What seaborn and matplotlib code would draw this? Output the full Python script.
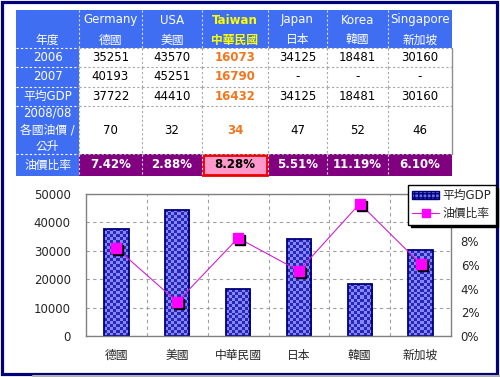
import numpy as np
import pandas as pd
import matplotlib
matplotlib.use('Agg')
import matplotlib.pyplot as plt
import matplotlib.transforms as mtransforms
from matplotlib.patches import Rectangle, Patch
from matplotlib.lines import Line2D
import seaborn as sns

countries_en = ['Germany', 'USA', 'Taiwan', 'Japan', 'Korea', 'Singapore']
countries_zh = ['德國', '美國', '中華民國', '日本', '韓國', '新加坡']
gdp_2006 = ['35251', '43570', '16073', '34125', '18481', '30160']
gdp_2007 = ['40193', '45251', '16790', '-', '-', '-']
gdp_avg = [37722, 44410, 16432, 34125, 18481, 30160]
oil_price = [70, 32, 34, 47, 52, 46]
oil_ratio = [7.42, 2.88, 8.28, 5.51, 11.19, 6.10]
row_labels = ['年度', '2006', '2007', '平均GDP', '2008/08\n各國油價 /\n公升', '油價比率']
legend_labels = ['平均GDP', '油價比率']

df = pd.DataFrame({'country': countries_zh, 'gdp': gdp_avg, 'ratio': oil_ratio})

sns.set_theme(style='white')
plt.rcParams['font.family'] = ['DejaVu Sans', 'Noto Sans CJK TC']

blue = '#3F6EF2'
purple = '#800080'
orange = '#EE7722'
navy = '#00007A'
fs = 8.5

fig = plt.figure(figsize=(5, 3.77), dpi=100)
bg = fig.add_axes([0, 0, 1, 1])
bg.set_xlim(0, 500)
bg.set_ylim(377, 0)
bg.axis('off')

# outer frame + shadow
bg.plot([33, 500], [376, 376], color='#B0B0B0', lw=1.5)
bg.add_patch(Rectangle((1.5, 1.5), 495, 372, fill=False, ec=navy, lw=2.3))

# ---- table ----
col_x = [16, 79, 142, 202, 268, 327, 388, 452]
row_y = [10, 48, 67, 87, 106, 154, 176]
n_rows = len(row_y) - 1
n_cols = len(col_x) - 1

def cell_color(r, c):
    if r == 0 or c == 0:
        return blue
    if r == n_rows - 1:
        return '#FF99CC' if c == 3 else purple
    return 'white'

for r in range(n_rows):
    for c in range(n_cols):
        bg.add_patch(Rectangle((col_x[c], row_y[r]), col_x[c+1]-col_x[c], row_y[r+1]-row_y[r],
                               fc=cell_color(r, c), ec='none'))

# dashed separators
for r in range(n_rows):
    for c in range(1, n_cols):
        dark = cell_color(r, c) != 'white'
        bg.plot([col_x[c], col_x[c]], [row_y[r], row_y[r+1]], ls=(0, (2, 2)), lw=0.8,
                color='#D8D8F0' if dark else '#A8A8A8')
for r in range(1, n_rows):
    for c in range(n_cols):
        dark = cell_color(r, c) != 'white' and cell_color(r-1, c) != 'white'
        bg.plot([col_x[c], col_x[c+1]], [row_y[r], row_y[r]], ls=(0, (2, 2)), lw=0.8,
                color='white' if dark else '#A8A8A8')
bg.plot([col_x[-1], col_x[-1]], [row_y[1], row_y[-2]], color='#909090', lw=1)

# highlight Taiwan ratio cell
bg.add_patch(Rectangle((col_x[3] + 1, row_y[5] + 1), col_x[4]-col_x[3]-2, row_y[6]-row_y[5]-2,
                       fill=False, ec='#EE0000', lw=2))

def cx(c):
    return (col_x[c] + col_x[c+1]) / 2

def cy(r):
    return (row_y[r] + row_y[r+1]) / 2

# row labels
bg.text(cx(0), 40, row_labels[0], color='white', fontsize=fs, ha='center', va='center')
for r in range(1, n_rows):
    bg.text(cx(0), cy(r), row_labels[r], color='white', fontsize=fs, ha='center', va='center',
            linespacing=1.35)

# columns
for i in range(len(countries_en)):
    c = i + 1
    tw = countries_en[i] == 'Taiwan'
    hc = '#FFFF00' if tw else 'white'
    fw = 'bold' if tw else 'normal'
    bg.text(cx(c), 20, countries_en[i], color=hc, fontsize=fs, fontweight=fw, ha='center', va='center')
    bg.text(cx(c), 40, countries_zh[i], color=hc, fontsize=fs, fontweight=fw, ha='center', va='center')
    vals = [gdp_2006[i], gdp_2007[i], str(gdp_avg[i]), str(oil_price[i])]
    for r, v in zip(range(1, 5), vals):
        bg.text(cx(c), cy(r), v, color=orange if tw else 'black', fontsize=fs,
                fontweight=fw, ha='center', va='center')
    bg.text(cx(c), cy(5), f'{oil_ratio[i]:.2f}%', color='black' if tw else 'white',
            fontsize=fs, fontweight='bold', ha='center', va='center')

# ---- chart ----
ax = fig.add_axes([86/500, 1 - 336/377, 365/500, 142/377])
ax.set_facecolor('white')
sns.barplot(data=df, x='country', y='gdp', ax=ax, width=0.4, color='#6060E0',
            edgecolor=navy, linewidth=1.3, zorder=1)
ax.set_ylim(0, 50000)
ax.set_xlim(-0.5, 5.5)

# checkerboard fill clipped to each bar
px_y = 50000 / 142
cmap = matplotlib.colors.ListedColormap(['#8686FF', '#2828B8'])
for p in ax.patches:
    x0, y0 = p.get_x(), p.get_y()
    w, h = p.get_width(), p.get_height()
    ny = max(1, int(round(h / (3 * px_y))))
    nx = 8
    chk = np.indices((ny, nx)).sum(axis=0) % 2
    im = ax.imshow(chk, cmap=cmap, extent=(x0, x0 + w, y0, y0 + h), aspect='auto',
                   interpolation='nearest', zorder=0.9, origin='lower')
    im.set_clip_path(p)
    p.set_facecolor('none')
ax.set_ylim(0, 50000)
ax.set_xlim(-0.5, 5.5)

ax.set_yticks(np.arange(0, 50001, 10000))
ax.yaxis.grid(True, ls=(0, (3, 3)), color='#A0A0A0', lw=0.8)
for xb in np.arange(0.5, 5.5, 1):
    ax.axvline(xb, ls=(0, (3, 3)), color='#A0A0A0', lw=0.8, zorder=0.5)
ax.set_axisbelow(True)
ax.set_xlabel('')
ax.set_ylabel('')
ax.tick_params(axis='both', length=0, labelsize=fs)
ax.tick_params(axis='x', pad=9)
ax.tick_params(axis='y', pad=11)
for s in ax.spines.values():
    s.set_color('#808080')
    s.set_linewidth(1)

ax2 = ax.twinx()
xs = np.arange(len(oil_ratio))
shadow = mtransforms.offset_copy(ax2.transData, fig=fig, x=2, y=-2, units='dots')
ax2.plot(xs, oil_ratio, color='#D020D0', lw=0.8, zorder=2)
ax2.plot(xs, oil_ratio, ls='none', marker='s', ms=7.5, color='black', transform=shadow, zorder=3)
ax2.plot(xs, oil_ratio, ls='none', marker='s', ms=7.5, color='#FF00FF', mec='#FF00FF', zorder=4)
ax2.set_ylim(0, 12)
# 10% and 12% sit behind the legend in the original, so they stay unlabelled
ax2.set_yticks(np.arange(0, 9, 2))
ax2.set_yticklabels([f'{t}%' for t in range(0, 9, 2)])
ax2.tick_params(axis='y', length=0, labelsize=fs, pad=7)
ax2.grid(False)
for s in ax2.spines.values():
    s.set_visible(False)

handles = [Patch(fc='#6A6AE6', ec=navy, hatch='++++', lw=1),
           Line2D([0], [0], color='#D020D0', lw=0.8, marker='s', ms=6, mfc='#FF00FF', mec='#FF00FF')]
leg = ax2.legend(handles, legend_labels, loc='upper left', bbox_to_anchor=(408/500, 1 - 185/377),
                 bbox_transform=fig.transFigure, borderaxespad=0, fontsize=fs, frameon=True,
                 fancybox=False, shadow={'color': 'black', 'alpha': 1}, handlelength=2.3,
                 handletextpad=0.3, borderpad=0.35, labelspacing=0.45)
leg.get_frame().set_edgecolor('black')
leg.get_frame().set_linewidth(1)
leg.get_frame().set_alpha(1)
leg.set_zorder(10)

fig.savefig('out.png', dpi=100)
